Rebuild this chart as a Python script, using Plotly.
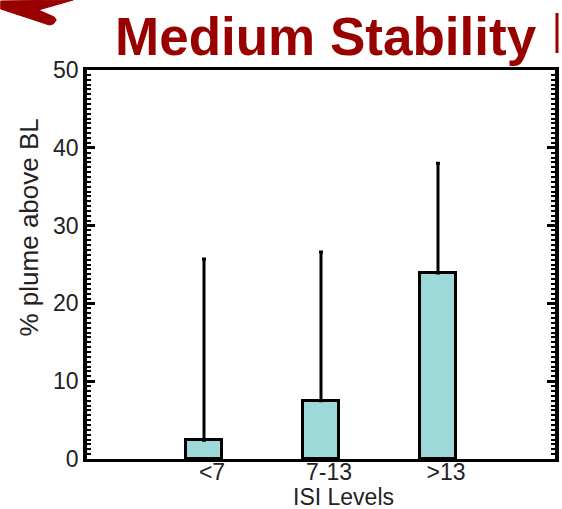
import plotly.graph_objects as go

categories = ["<7", "7-13", ">13"]
positions = [1, 2, 3]
means = [2.4, 7.5, 23.9]
upper_err = [23.3, 19.1, 14.1]
y_ticks = [0, 10, 20, 30, 40, 50]

# pixel geometry of the plot area (for decorative slide elements only)
L, R, T, B = 87, 559, 70, 459
def px(x):
    return (x - L) / (R - L)
def py(y):
    return (B - y) / (B - T)

fig = go.Figure()
fig.add_trace(go.Bar(
    x=positions, y=means, width=0.3,
    marker=dict(color="#9ED9D9", line=dict(color="black", width=3)),
    error_y=dict(type="data", symmetric=False, array=upper_err,
                 arrayminus=[0, 0, 0], color="black", thickness=3, width=2),
    showlegend=False,
))

font = "Liberation Sans, Arial, sans-serif"
fig.update_layout(
    width=562, height=509,
    margin=dict(l=L, r=562 - R, t=T, b=509 - B),
    plot_bgcolor="white", paper_bgcolor="white",
    font=dict(family=font, color="#222"),
    bargap=0,
)
fig.update_xaxes(
    range=[0, 4], tickvals=positions, ticktext=categories,
    tickfont=dict(size=23, color="#222"), ticks="", ticklabelshift=8,
    ticklabelstandoff=-10,
    showline=True, linecolor="black", linewidth=3, mirror=True,
    showgrid=False, zeroline=False,
)
fig.update_yaxes(
    range=[0, 50], tickvals=y_ticks,
    tickfont=dict(size=23, color="#222"),
    ticks="inside", ticklen=8, tickwidth=3, tickcolor="black",
    minor=dict(dtick=0.625, ticks="inside", ticklen=4, tickwidth=2, tickcolor="black"),
    showline=True, linecolor="black", linewidth=3.5, mirror="allticks",
    showgrid=False, zeroline=False,
)

# axis titles
fig.add_annotation(text="ISI Levels", xref="paper", yref="paper",
                   x=px(346), y=py(497),
                   showarrow=False, font=dict(size=23, color="#222"),
                   xanchor="center", yanchor="middle")
fig.add_annotation(text="% plume above BL", xref="paper", yref="paper",
                   x=px(28), y=py(228), textangle=-90,
                   showarrow=False, font=dict(size=26, color="#222"),
                   xanchor="center", yanchor="middle")

# slide title
fig.add_annotation(text="<b>Medium Stability</b>", xref="paper", yref="paper",
                   x=px(328), y=py(36),
                   showarrow=False, font=dict(size=53, color="#990000"),
                   xanchor="center", yanchor="middle")

# decorative arrow wedge and bar from the slide
pts = [(0, 1), (73, 0), (38, 10), (54, 17), (56, 20), (53, 24), (49, 25), (0, 9)]
path = "M " + " L ".join(f"{px(a):.5f},{py(b):.5f}" for a, b in pts) + " Z"
fig.add_shape(type="path", xref="paper", yref="paper", path=path,
              fillcolor="#990000", line=dict(color="#990000", width=1))
fig.add_shape(type="line", xref="paper", yref="paper",
              x0=px(561), y0=py(13), x1=px(561), y1=py(53),
              line=dict(color="#990000", width=3))

fig.write_html("out.html")
